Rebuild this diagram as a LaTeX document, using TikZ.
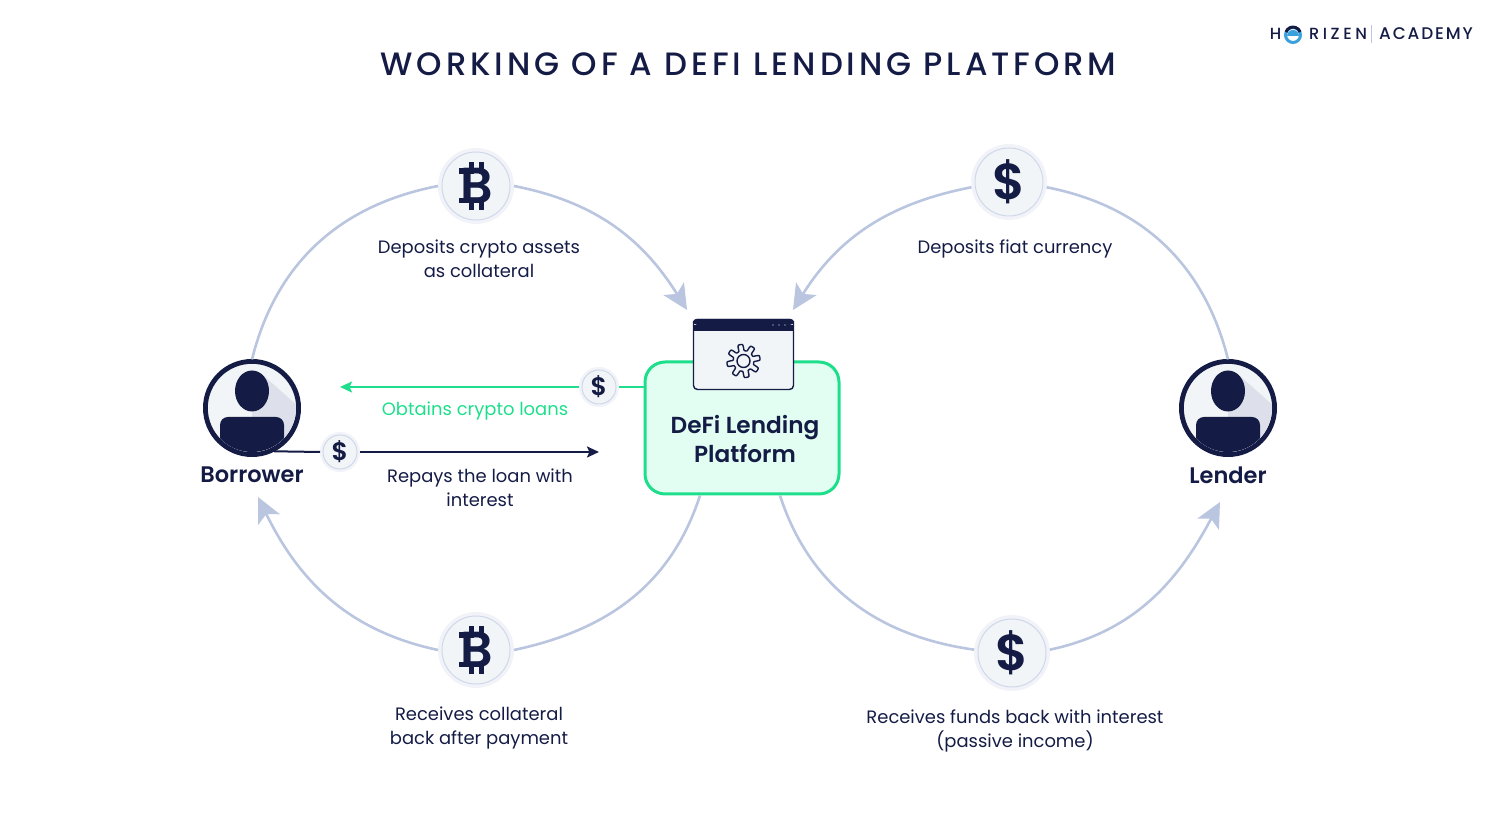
\documentclass[tikz,border=0pt]{standalone}
\usepackage{fontspec}
\usepackage{xcolor}
\usetikzlibrary{positioning,arrows.meta,shapes.geometric}
\setmainfont[BoldFont={Poppins SemiBold}]{Poppins}
\newfontfamily\titlefont[LetterSpace=12]{Poppins Medium}
\newfontfamily\logofont[LetterSpace=22]{Poppins Medium}
\newfontfamily\academyfont[LetterSpace=11]{Poppins Medium}
\definecolor{navy}{HTML}{141B45}
\definecolor{arcblue}{HTML}{BAC5DF}
\definecolor{paper}{HTML}{F2F5F7}
\definecolor{halo}{HTML}{F1F3F8}
\definecolor{ringblue}{HTML}{CFD8EA}
\definecolor{personshade}{HTML}{DDE0EA}
\definecolor{mint}{HTML}{1DDF8B}
\definecolor{mintfill}{HTML}{E2FDF1}
\definecolor{logoblue}{HTML}{3CA0DA}
\tikzset{
    coin/.style={circle, draw=ringblue, fill=paper, line width=0.05cm, minimum size=3.4cm, inner sep=0pt, outer sep=0.2cm, text=navy, preaction={draw=halo, line width=0.4cm}},
    smallcoin/.style={circle, draw=ringblue, fill=paper, line width=0.05cm, minimum size=1.7cm, inner sep=0pt, outer sep=0.15cm, text=navy, font=\fontsize{36}{36}\selectfont\bfseries, preaction={draw=halo, line width=0.3cm}},
    bigmark/.style={font=\fontsize{72}{72}\selectfont\bfseries},
    btcmark/.style={font=\fontsize{72}{72}\selectfont\bfseries},
    caption/.style={align=center, text=navy, inner sep=0pt, font=\fontsize{25.5}{34}\selectfont},
    actor/.style={align=center, text=navy, inner sep=0pt, font=\fontsize{32}{42}\selectfont\bfseries},
    arc/.style={draw=arcblue, line width=0.13cm},
    arcarrow/.style={arc, -{Stealth[length=1.25cm, width=1.2cm, inset=0.3cm]}},
    flow/.style={line width=0.1cm, -{Stealth[length=0.6cm, width=0.55cm, inset=0.12cm]}},
    persona/.style={circle, draw=navy, fill=paper, line width=0.24cm, minimum size=4.66cm, inner sep=0pt, outer sep=0.1cm},
    platform/.style={rectangle, draw=mint, fill=mintfill, line width=0.15cm, rounded corners=1cm, minimum width=9.7cm, minimum height=6.6cm},
    pics/person/.style={code={
        \begin{scope}
            \clip (0,0) circle (44);
            \fill[personshade] (12,32) -- (48,0) -- (48,-48) -- (0,-48) -- (0,17) -- cycle;
            \fill[navy, rounded corners=0.4cm] (-32,-9) rectangle (32,-60);
            \fill[navy] (0,17) ellipse (17 and 20.5);
        \end{scope}
    }},
    pics/btcbars/.style={code={
        \fill[navy] (-7,12) rectangle (-2,24);
        \fill[navy] (3,12) rectangle (8,24);
        \fill[navy] (-7,-12) rectangle (-2,-24);
        \fill[navy] (3,-12) rectangle (8,-24);
        \fill[navy] (-17,17.5) rectangle (-6,12);
        \fill[navy] (-17,-17.5) rectangle (-6,-12);
    }}
}

\begin{document}
\begin{tikzpicture}[x=0.05cm, y=0.05cm]
\useasboundingbox (0,0) rectangle (1500,833);

% ── Title and logo ──
\node[text=navy, font=\fontsize{46}{46}\titlefont] (title) at (748.5,769) {WORKING OF A DEFI LENDING PLATFORM};
\node[text=navy, font=\fontsize{23}{23}\logofont] (logoh) at (1275.5,799) {H};
\node[text=navy, font=\fontsize{23}{23}\logofont] (logorizen) at (1338,799) {RIZEN};
\node[text=navy, font=\fontsize{24}{24}\academyfont] (logoacademy) at (1426,799) {ACADEMY};
\draw[logoblue, line width=0.15cm] (1293,798) circle (7.5);
\draw[navy, line width=0.15cm] (1286,801) arc (160:20:7.5);
\fill[logoblue] (1287,797) arc (180:0:6) -- cycle;
\draw[arcblue, line width=0.05cm] (1371,790) -- (1371,808);

% ── Actors ──
\node[persona] (borrowericon) at (252,425) {};
\pic at (borrowericon) {person};
\node[actor, below=0.5cm of borrowericon] (borrower) {Borrower};
\node[persona] (lendericon) at (1228,425) {};
\pic at (lendericon) {person};
\node[actor, below=0.5cm of lendericon] (lender) {Lender};

% ── Platform ──
\node[platform] (platformbox) at (742,405) {};
\node[text=navy, align=center, font=\fontsize{33}{42}\selectfont\bfseries] (platform) at (745,394) {DeFi Lending\\Platform};
\node[rectangle, draw=navy, fill=paper, line width=0.07cm, rounded corners=0.2cm, minimum width=5cm, minimum height=3.5cm] (window) at (743.5,478.5) {};
\fill[navy, rounded corners=0.2cm] (window.north west) rectangle ([yshift=-0.3cm]window.north east);
\fill[navy] ([yshift=-0.3cm]window.west |- window.north) rectangle ([yshift=-0.6cm]window.north east);
\foreach \dotx in {773,779,785}
    \fill[white] (\dotx,508) circle (0.7);
\draw[navy, line width=0.07cm] plot[domain=0:360, samples=181] ({743.5+(13.5+3.2*tanh(3*sin(8*\x)))*cos(\x)},{472+(13.5+3.2*tanh(3*sin(8*\x)))*sin(\x)}) -- cycle;
\draw[navy, line width=0.07cm] (743.5,472) circle (6.5);

% ── Coins ──
\node[coin, btcmark] (coinpledge) at (476,647) {\hspace{2pt}B};
\pic at (coinpledge) {btcbars};
\node[coin, bigmark] (coindeposit) at (1009,651) {\$};
\node[coin, btcmark] (coinreturn) at (476,183) {\hspace{2pt}B};
\pic at (coinreturn) {btcbars};
\node[coin, bigmark] (coinincome) at (1012,180) {\$};
\node[smallcoin] (coinloan) at (599,446) {\$};
\node[smallcoin] (coinrepay) at (340,381) {\$};

% ── Captions ──
\node[caption, below=0.8cm of coinpledge, xshift=0.15cm] (pledge) {Deposits crypto assets\\as collateral};
\node[caption, below=1cm of coindeposit, xshift=0.3cm] (deposit) {Deposits fiat currency};
\node[caption, below=0.95cm of coinreturn, xshift=0.15cm] (return) {Receives collateral\\back after payment};
\node[caption, below=0.95cm of coinincome, xshift=0.15cm] (income) {Receives funds back with interest\\(passive income)};
\node[caption, text=mint, below=-0.25cm of coinloan, xshift=-6.2cm] (loan) {Obtains crypto loans};
\node[caption, below=-0.15cm of coinrepay, xshift=7cm] (repay) {Repays the loan with\\interest};

% ── Free ends ──
\coordinate (pledgeend) at (687,523);
\coordinate (depositend) at (793,523);
\coordinate (returnend) at (258,336);
\coordinate (incomeend) at (1220,331);
\coordinate (loanend) at (340,446);
\coordinate (repayend) at (599,381);

% ── Relationships ──
\draw[arc] (borrowericon.north) to[out=76, in=191, looseness=1] (coinpledge.west);
\draw[arcarrow] (coinpledge.east) to[out=-11, in=122, looseness=1] (pledgeend);
\draw[arc] (lendericon.north) to[out=104, in=-11, looseness=1] (coindeposit.-8);
\draw[arcarrow] (coindeposit.188) to[out=191, in=58, looseness=1] (depositend);
\draw[arc] (platformbox.south -| 700,0) to[out=-108, in=12, looseness=1] (coinreturn.east);
\draw[arcarrow] (coinreturn.west) to[out=168, in=-64, looseness=1] (returnend);
\draw[arc] (platformbox.south -| 780,0) to[out=-72, in=172, looseness=1] (coinincome.175);
\draw[arcarrow] (coinincome.5) to[out=12, in=-118, looseness=1] (incomeend);
\draw[mint, line width=0.1cm] (platformbox.west |- coinloan) -- (coinloan.east);
\draw[flow, mint] (coinloan.west) -- (loanend);
\draw[navy, line width=0.1cm] (borrowericon.-63) -- (coinrepay.west);
\draw[flow, navy] (coinrepay.east) -- (repayend);

\end{tikzpicture}
\end{document}
